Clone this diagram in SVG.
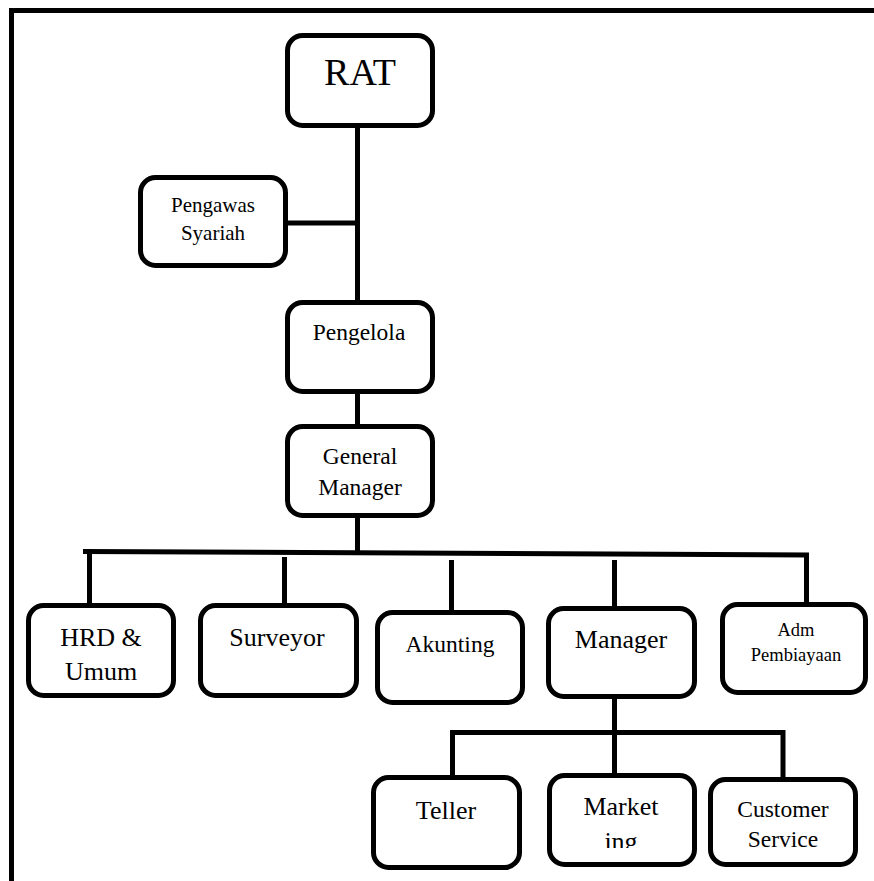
<svg xmlns="http://www.w3.org/2000/svg" width="874" height="881" viewBox="0 0 874 881">
<style>
.box{fill:#fff;stroke:#000;stroke-width:5}
.ln{stroke:#000;stroke-width:5;fill:none}
text{font-family:"Liberation Serif","Times New Roman",serif;fill:#000;text-anchor:middle}
</style>
<defs>
<clipPath id="clipMkt"><rect x="547" y="773" width="150" height="75"/></clipPath>
</defs>
<rect width="874" height="881" fill="#fff"/>
<g id="frame">
<line class="ln" x1="9" y1="10.5" x2="874" y2="10.5"/>
<line class="ln" x1="11.5" y1="8" x2="11.5" y2="881"/>
</g>
<g id="connectors">
<line class="ln" x1="357.5" y1="128" x2="357.5" y2="300"/>
<line class="ln" x1="288" y1="223" x2="357.5" y2="223"/>
<line class="ln" x1="357.5" y1="394" x2="357.5" y2="424"/>
<line class="ln" x1="357.5" y1="518" x2="357.5" y2="552"/>
<line class="ln" x1="83" y1="551.5" x2="809" y2="555"/>
<line class="ln" x1="89.5" y1="552" x2="89.5" y2="603"/>
<line class="ln" x1="284.5" y1="557" x2="284.5" y2="603"/>
<line class="ln" x1="451.5" y1="560" x2="451.5" y2="610"/>
<line class="ln" x1="614.5" y1="560" x2="614.5" y2="606"/>
<line class="ln" x1="806.5" y1="553" x2="806.5" y2="602"/>
<line class="ln" x1="614.5" y1="699" x2="614.5" y2="732"/>
<polyline class="ln" points="452.5,777 452.5,732.5 783,732.5 783,777"/>
<line class="ln" x1="614.5" y1="732" x2="614.5" y2="773"/>
</g>
<g id="rat"><rect class="box" x="287.5" y="35.5" width="145" height="90" rx="15"/><text x="360" y="85" font-size="38">RAT</text></g>
<g id="pengawas"><rect class="box" x="140.5" y="177.5" width="145" height="88" rx="15"/><text x="213" y="212" font-size="21">Pengawas</text><text x="213" y="240" font-size="21">Syariah</text></g>
<g id="pengelola"><rect class="box" x="287.5" y="302.5" width="145" height="89" rx="15"/><text x="359" y="340" font-size="23.5">Pengelola</text></g>
<g id="gm"><rect class="box" x="287.5" y="426.5" width="145" height="89" rx="15"/><text x="360" y="464" font-size="23.5">General</text><text x="360" y="495" font-size="23.5">Manager</text></g>
<g id="hrd"><rect class="box" x="28.5" y="605.5" width="145" height="90" rx="15"/><text x="101" y="646" font-size="26">HRD &amp;</text><text x="101" y="680" font-size="26">Umum</text></g>
<g id="surveyor"><rect class="box" x="200.5" y="605.5" width="156" height="90" rx="15"/><text x="277" y="646" font-size="26">Surveyor</text></g>
<g id="akunting"><rect class="box" x="377.5" y="612.5" width="145" height="90" rx="15"/><text x="450" y="652" font-size="23.5">Akunting</text></g>
<g id="manager"><rect class="box" x="548.5" y="608.5" width="146" height="88" rx="15"/><text x="621" y="648" font-size="26">Manager</text></g>
<g id="adm"><rect class="box" x="722.5" y="604.5" width="143" height="88" rx="15"/><text x="796" y="636" font-size="18.5">Adm</text><text x="796" y="661" font-size="18.5">Pembiayaan</text></g>
<g id="teller"><rect class="box" x="373.5" y="777.5" width="146" height="90" rx="15"/><text x="446" y="819" font-size="26">Teller</text></g>
<g id="marketing"><rect class="box" x="549.5" y="775.5" width="145" height="89" rx="15"/><text x="621" y="815" font-size="26">Market</text><text x="621" y="850" font-size="26" clip-path="url(#clipMkt)">ing</text></g>
<g id="cs"><rect class="box" x="710.5" y="779.5" width="145" height="85" rx="15"/><text x="783" y="817" font-size="23.5">Customer</text><text x="783" y="847" font-size="23.5">Service</text></g>
</svg>
